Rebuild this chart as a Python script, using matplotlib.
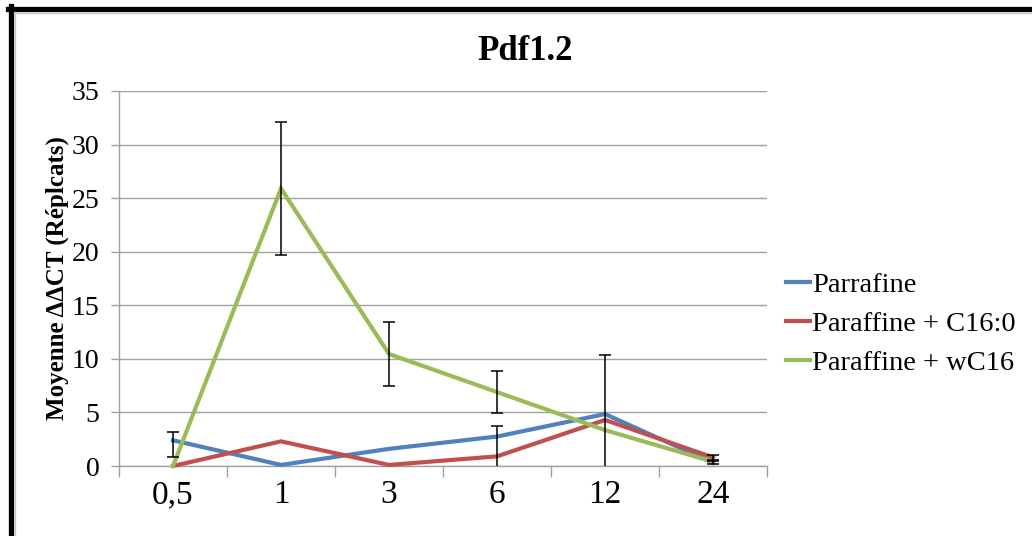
import matplotlib
matplotlib.use("Agg")
import matplotlib.pyplot as plt
from matplotlib.lines import Line2D

categories = ["0,5", "1", "3", "6", "12", "24"]
series_names = ["Parrafine", "Paraffine + C16:0", "Paraffine + wC16"]
parrafine = [2.4, 0.1, 1.6, 2.75, 4.85, 0.3]
c16 = [0.0, 2.3, 0.1, 0.9, 4.3, 0.8]
wc16 = [0.0, 25.9, 10.45, 6.9, 3.35, 0.4]
parrafine_err_low = [1.6, 0.0, 0.0, 0.0, 5.5, 0.15]
parrafine_err_high = [0.8, 0.0, 0.0, 0.0, 5.5, 0.15]
c16_err = [0.0, 0.0, 0.0, 2.85, 0.0, 0.2]
wc16_err = [0.0, 6.25, 3.0, 1.95, 0.0, 0.0]
yticks = [0, 5, 10, 15, 20, 25, 30, 35]

W, H = 1032, 536
fig = plt.figure(figsize=(W / 100, H / 100), dpi=100)
plt.rcParams['font.family'] = ['Liberation Serif', 'DejaVu Serif']

ax = fig.add_axes([119 / W, 1 - 466 / H, (767 - 119) / W, (466 - 91) / H])
x = list(range(len(categories)))

colors = ["#4F81BD", "#C0504D", "#9BBB59"]
vals = [parrafine, c16, wc16]
errs = [(parrafine_err_low, parrafine_err_high), (c16_err, c16_err), (wc16_err, wc16_err)]

for v, (lo, hi), c, n in zip(vals, errs, colors, series_names):
    ax.plot(x, v, color=c, lw=3.0, label=n, clip_on=False, zorder=3, solid_joinstyle='miter')
    idx = [i for i in x if lo[i] > 0 or hi[i] > 0]
    if idx:
        ax.errorbar([x[i] for i in idx], [v[i] for i in idx],
                    yerr=[[lo[i] for i in idx], [hi[i] for i in idx]],
                    fmt='none', ecolor='black', elinewidth=1.1,
                    capsize=4, capthick=1.1, zorder=4)

ax.set_xlim(-0.5, 5.5)
ax.set_ylim(0, 35)
ax.set_yticks(yticks)
ax.set_yticklabels([str(t) for t in yticks], fontsize=20)
ax.set_xticks([i - 0.5 for i in range(len(categories) + 1)])
ax.set_xticklabels([])
ax.set_xticks(x, minor=True)
ax.set_xticklabels(categories, minor=True, fontsize=24)
ax.tick_params(axis='x', which='major', length=8, color='#A0A0A0', width=1)
ax.tick_params(axis='x', which='minor', length=0, pad=10)
ax.tick_params(axis='y', length=6, color='#A0A0A0', width=1, pad=8)
ax.yaxis.grid(True, color='#A0A0A0', lw=1)
ax.set_axisbelow(True)
for s in ['top', 'right']:
    ax.spines[s].set_visible(False)
for s in ['left', 'bottom']:
    ax.spines[s].set_color('#A0A0A0')
    ax.spines[s].set_linewidth(1)

ax.set_ylabel("Moyenne ΔΔCT (Réplcats)", fontsize=18, fontweight='bold', labelpad=2)
fig.text(525 / W, 1 - 52 / H, "Pdf1.2", fontsize=25, fontweight='bold', ha='center', va='center')

leg = ax.legend(loc='center left', bbox_to_anchor=(786 / W, 1 - 324 / H),
                bbox_transform=fig.transFigure, frameon=False, fontsize=20.5,
                handlelength=0.85, handletextpad=0.08, labelspacing=0.45,
                borderpad=0, borderaxespad=0)

def fx(px):
    return px / W

def fy(py):
    return 1 - py / H

fig.add_artist(Line2D([fx(10.5), fx(10.5)], [fy(6), fy(H)], color='black', lw=3.8))
fig.add_artist(Line2D([fx(8), fx(W)], [fy(8.5), fy(8.5)], color='black', lw=3.8))
fig.add_artist(Line2D([fx(14.5), fx(14.5)], [fy(12), fy(H)], color='#C8C8C8', lw=1))
fig.add_artist(Line2D([fx(14), fx(W)], [fy(12.5), fy(12.5)], color='#C8C8C8', lw=1))

fig.savefig("out.png", dpi=100)
